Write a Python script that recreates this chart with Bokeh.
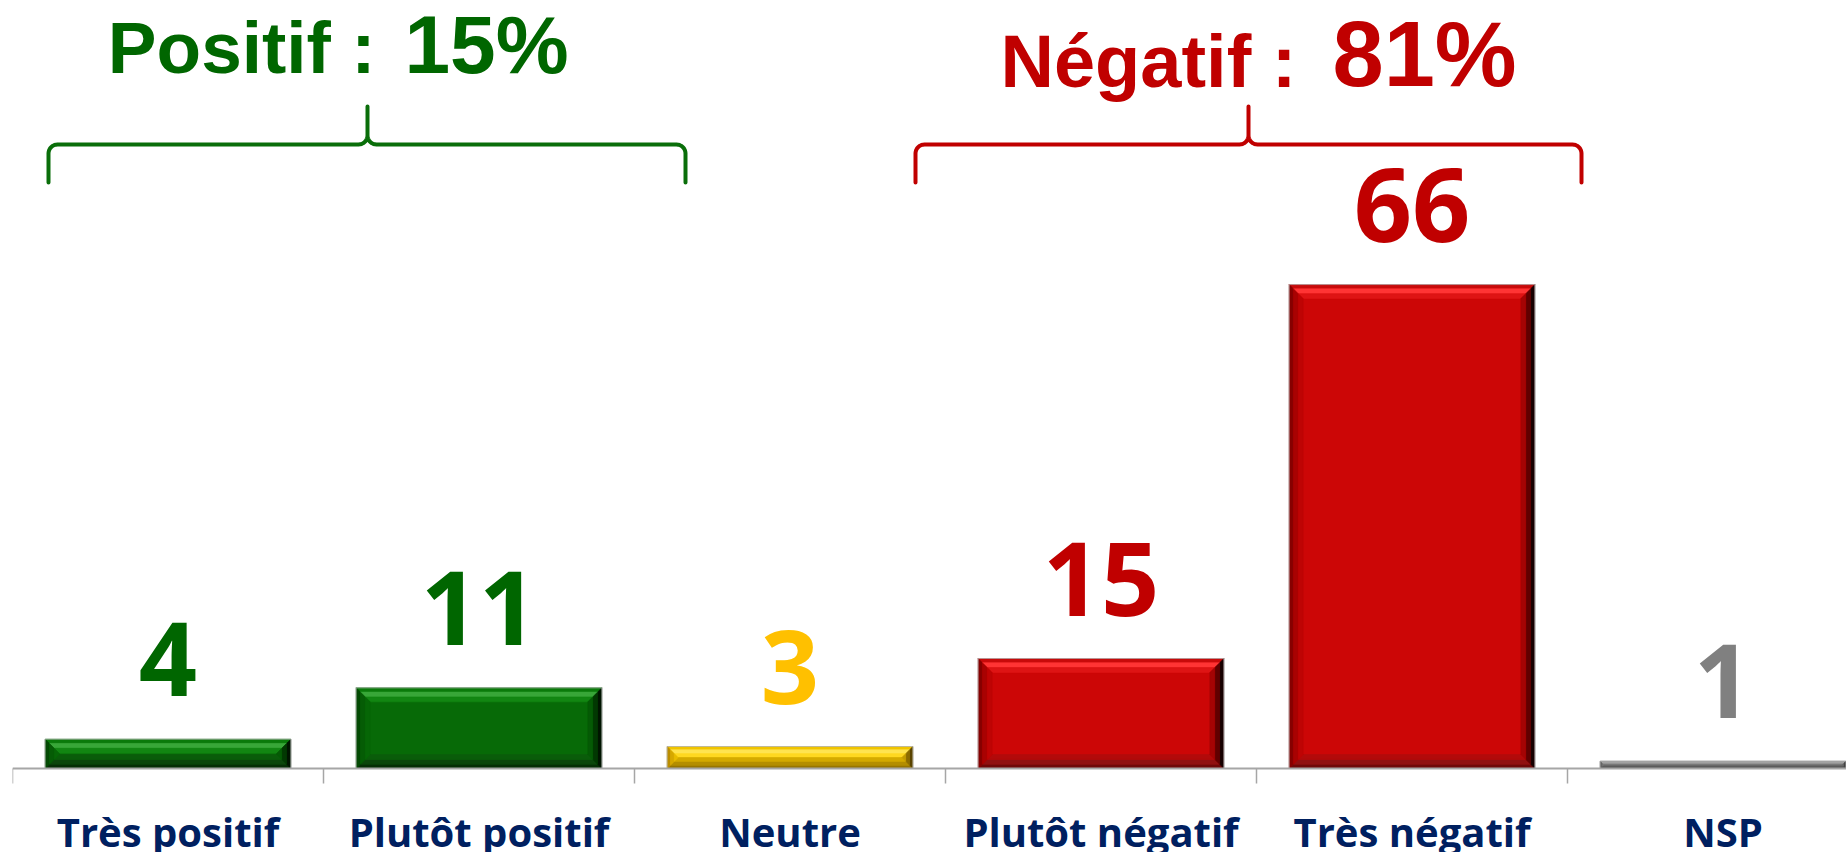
import numpy as np
from bokeh.plotting import figure
from bokeh.models import ColumnDataSource, FixedTicker, Range1d
from bokeh.core.properties import value
from bokeh.embed import file_html
from bokeh.resources import INLINE

# ---------------- data ----------------
categories = ["Très positif", "Plutôt positif", "Neutre", "Plutôt négatif", "Très négatif", "NSP"]
values = [4, 11, 3, 15, 66, 1]
group_names = ["Positif", "Négatif"]
group_members = [[0, 1], [3, 4]]

# ---------------- style ----------------
GREEN, YELLOW, RED, GREY = "green", "yellow", "red", "grey"
cat_kind = [GREEN, GREEN, YELLOW, RED, RED, GREY]
# bevel bands listed from the outer edge inwards
palette = {
    GREEN: dict(body="#076A07", text="#006600",
                top=["#0A7A0A", "#38A638", "#128612"], bottom=["#062E06", "#0C460C", "#0A5C0A"],
                left=["#044A04", "#055C05", "#066606"], right=["#001400", "#023802", "#055A05"]),
    YELLOW: dict(body="#F9CC00", text="#FFC000",
                 top=["#F0C400", "#FFE450", "#FFD820"], bottom=["#977500", "#B48E00", "#D4AA00"],
                 left=["#BC8E00", "#D6A800", "#E8BC00"], right=["#5A4400", "#8C6C00", "#C49C00"]),
    RED: dict(body="#CC0606", text="#C00000",
              top=["#C80A0A", "#FF3434", "#DE1414"], bottom=["#6E0808", "#901010", "#B20A0A"],
              left=["#860000", "#A80202", "#BE0404"], right=["#160000", "#600000", "#A40404"]),
    GREY: dict(body="#7F7F7F", text="#808080",
               top=["#8A8A8A", "#A6A6A6", "#919191"], bottom=["#3E3E3E", "#555555", "#6A6A6A"],
               left=["#555555", "#666666", "#747474"], right=["#202020", "#444444", "#666666"]),
}
group_colors = ["#0A6E0A", "#C00000"]
group_text_colors = ["#006600", "#C00000"]

W, H = 1846, 852
BORDER_L = 12
AXIS_Y = 768      # canvas y of the value axis
PX_X = 311.0      # pixels per category
PX_Y = 7.332      # pixels per percentage point
BAR_W = 0.79
BEV = 14.0        # bevel size in px
BANDS = [0.0, 0.3, 0.65, 1.0]
LABEL_GAP = 42.0  # px between bar top and value-label baseline
BASE_FIX = 0.37   # em: renderer draws "alphabetic" text this much lower

def xpx(px):      # canvas x pixel -> data x
    return (px - BORDER_L) / PX_X

def ypx(py):      # canvas y pixel -> data y
    return (AXIS_Y - py) / PX_Y

def fix(size):    # baseline correction in data units
    return BASE_FIX * size / PX_Y

centers = [i + 0.5 for i in range(len(categories))]

p = figure(width=W, height=H, output_backend="svg", toolbar_location=None,
           x_range=Range1d(0, (W - BORDER_L) / PX_X),
           y_range=Range1d(-(H - AXIS_Y) / PX_Y, AXIS_Y / PX_Y),
           y_axis_location=None,
           min_border_left=BORDER_L, min_border_right=0, min_border_top=0, min_border_bottom=0)
p.outline_line_color = None
p.grid.visible = False
p.background_fill_color = "white"
p.border_fill_color = "white"

# bars
src = ColumnDataSource(dict(
    x=centers, top=values,
    color=[palette[k]["body"] for k in cat_kind],
))
p.vbar(x="x", top="top", bottom=0, width=BAR_W, fill_color="color", line_color=None, source=src)

# bevel facets (banded trapezoids)
xs, ys, cs = [], [], []
for c, v, k in zip(centers, values, cat_kind):
    L, R, T, B = c - BAR_W / 2, c + BAR_W / 2, v, 0.0
    bev_px = min(BEV, v * PX_Y / 2.0)
    pal = palette[k]
    for bi in range(len(BANDS) - 1):
        d0x, d1x = BANDS[bi] * bev_px / PX_X, BANDS[bi + 1] * bev_px / PX_X
        d0y, d1y = BANDS[bi] * bev_px / PX_Y, BANDS[bi + 1] * bev_px / PX_Y
        facets = [
            ([L + d0x, R - d0x, R - d1x, L + d1x], [T - d0y, T - d0y, T - d1y, T - d1y], pal["top"][bi]),
            ([L + d0x, R - d0x, R - d1x, L + d1x], [B + d0y, B + d0y, B + d1y, B + d1y], pal["bottom"][bi]),
            ([L + d0x, L + d0x, L + d1x, L + d1x], [B + d0y, T - d0y, T - d1y, B + d1y], pal["left"][bi]),
            ([R - d0x, R - d0x, R - d1x, R - d1x], [B + d0y, T - d0y, T - d1y, B + d1y], pal["right"][bi]),
        ]
        for fx, fy, col in facets:
            xs.append(fx); ys.append(fy); cs.append(col)
p.patches(xs=xs, ys=ys, fill_color=cs, line_color=cs, line_width=0.6)
p.vbar(x="x", top="top", bottom=0, width=BAR_W, fill_color=None, line_color="#B4B4B4",
       line_width=1, line_alpha=0.8, source=src)

# group brackets and headers
bracket_px = [  # (left, peak, right) canvas px
    (48, 367, 685),
    (915, 1248, 1581),
]
Y_LINE, Y_END, Y_PEAK = ypx(144), ypx(182), ypx(106)
R_PX = 9.0
rx, ry = R_PX / PX_X, R_PX / PX_Y

def arc(cx, cy, t0, t1, n=10):
    t = np.linspace(t0, t1, n)
    return list(cx + rx * np.cos(t)), list(cy + ry * np.sin(t))

for (l, m, r), col in zip(bracket_px, group_colors):
    x0, xm, x1 = xpx(l), xpx(m), xpx(r)
    bxs, bys = [x0], [Y_END]
    for cx, cy, t0, t1 in [(x0 + rx, Y_LINE - ry, np.pi, np.pi / 2),
                           (xm - rx, Y_LINE + ry, -np.pi / 2, 0)]:
        a, b = arc(cx, cy, t0, t1); bxs += a; bys += b
    bxs += [xm]; bys += [Y_PEAK]
    for cx, cy, t0, t1 in [(xm + rx, Y_LINE + ry, np.pi, 1.5 * np.pi),
                           (x1 - rx, Y_LINE - ry, np.pi / 2, 0)]:
        a, b = arc(cx, cy, t0, t1); bxs += a; bys += b
    bxs += [x1]; bys += [Y_END]
    p.line(bxs, bys, line_color=col, line_width=4, line_join="round", line_cap="round")

head_px = [  # (name right edge, total left edge, baseline, name size, total size)
    (375, 404, 74, 73, 82),
    (1296, 1332, 88, 74, 92),
]
for gi, (name, members) in enumerate(zip(group_names, group_members)):
    nr, tl, base, s1, s2 = head_px[gi]
    total = sum(values[i] for i in members)
    p.text(x=[xpx(nr)], y=[ypx(base) + fix(s1)], text=[f"{name} :"], text_align="right",
           text_baseline="alphabetic", text_font=value("Liberation Sans"), text_font_style="bold",
           text_font_size=f"{s1}px", text_color=group_text_colors[gi])
    p.text(x=[xpx(tl)], y=[ypx(base) + fix(s2)], text=[f"{total}%"], text_align="left",
           text_baseline="alphabetic", text_font=value("Liberation Sans"), text_font_style="bold",
           text_font_size=f"{s2}px", text_color=group_text_colors[gi])

# value labels (font size must not be 100px: the svg backend font parser chokes on it)
VAL_SIZE = 102
for c, v, k in zip(centers, values, cat_kind):
    p.text(x=[c], y=[v + LABEL_GAP / PX_Y + fix(VAL_SIZE)], text=[str(v)], text_align="center",
           text_baseline="alphabetic", text_font=value("Open Sans"), text_font_style="bold",
           text_font_size=f"{VAL_SIZE}px", text_color=palette[k]["text"])

# x axis (fixed at y = 0)
ax = p.xaxis[0]
ax.fixed_location = 0
ax.ticker = FixedTicker(ticks=centers, minor_ticks=list(range(len(categories) + 1)))
ax.major_label_overrides = {c: name for c, name in zip(centers, categories)}
ax.major_tick_out = 0
ax.major_tick_in = 0
ax.minor_tick_out = 15
ax.minor_tick_in = 0
ax.minor_tick_line_color = "#A6A6A6"
ax.minor_tick_line_width = 1.5
ax.axis_line_color = "#A6A6A6"
ax.axis_line_width = 2
ax.major_label_standoff = 20
ax.major_label_text_font = "Open Sans"
ax.major_label_text_font_style = "bold"
ax.major_label_text_font_size = "40px"
ax.major_label_text_color = "#002060"

open("out.html", "w").write(file_html(p, INLINE))
